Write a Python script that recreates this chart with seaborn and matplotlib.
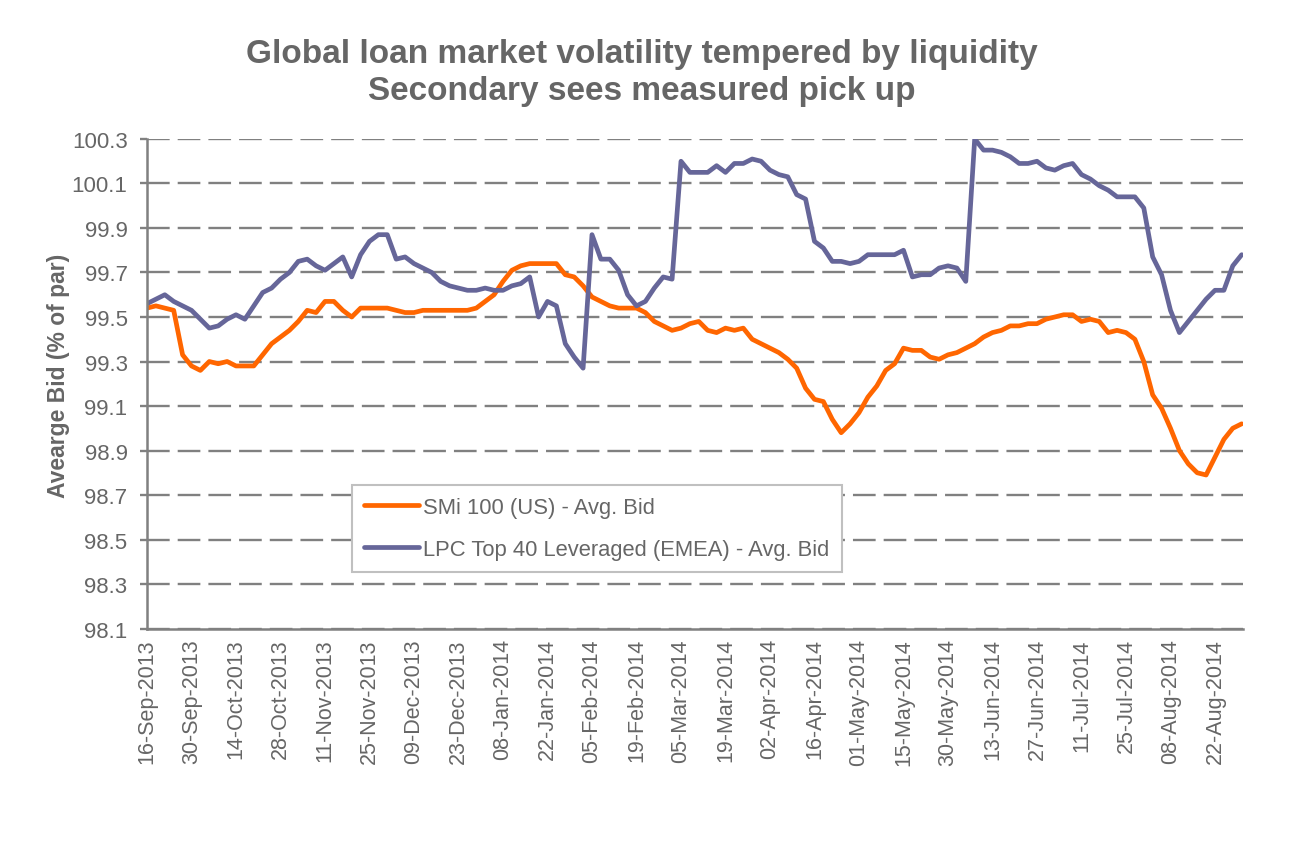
import numpy as np
import pandas as pd
import matplotlib
matplotlib.use("Agg")
import matplotlib.pyplot as plt
import seaborn as sns

# x axis is a trading-day axis, labels on every 10th trading day
date_labels = [
    "16-Sep-2013", "30-Sep-2013", "14-Oct-2013", "28-Oct-2013", "11-Nov-2013",
    "25-Nov-2013", "09-Dec-2013", "23-Dec-2013", "08-Jan-2014", "22-Jan-2014",
    "05-Feb-2014", "19-Feb-2014", "05-Mar-2014", "19-Mar-2014", "02-Apr-2014",
    "16-Apr-2014", "01-May-2014", "15-May-2014", "30-May-2014", "13-Jun-2014",
    "27-Jun-2014", "11-Jul-2014", "25-Jul-2014", "08-Aug-2014", "22-Aug-2014",
]

# readings taken every second trading day
step = 2

# SMi 100 (US) - Avg. Bid
smi_us = [
    99.54, 99.55, 99.54, 99.53, 99.33, 99.28, 99.26, 99.30, 99.29, 99.30,
    99.28, 99.28, 99.28, 99.33, 99.38, 99.41, 99.44, 99.48, 99.53, 99.52,
    99.57, 99.57, 99.53, 99.50, 99.54, 99.54, 99.54, 99.54, 99.53, 99.52,
    99.52, 99.53, 99.53, 99.53, 99.53, 99.53, 99.53, 99.54, 99.57, 99.60,
    99.66, 99.71, 99.73, 99.74, 99.74, 99.74, 99.74, 99.69, 99.68, 99.64,
    99.59, 99.57, 99.55, 99.54, 99.54, 99.54, 99.52, 99.48, 99.46, 99.44,
    99.45, 99.47, 99.48, 99.44, 99.43, 99.45, 99.44, 99.45, 99.40, 99.38,
    99.36, 99.34, 99.31, 99.27, 99.18, 99.13, 99.12, 99.04, 98.98, 99.02,
    99.07, 99.14, 99.19, 99.26, 99.29, 99.36, 99.35, 99.35, 99.32, 99.31,
    99.33, 99.34, 99.36, 99.38, 99.41, 99.43, 99.44, 99.46, 99.46, 99.47,
    99.47, 99.49, 99.50, 99.51, 99.51, 99.48, 99.49, 99.48, 99.43, 99.44,
    99.43, 99.40, 99.30, 99.15, 99.09, 99.00, 98.90, 98.84, 98.80, 98.79,
    98.87, 98.95, 99.00, 99.02,
]

# LPC Top 40 Leveraged (EMEA) - Avg. Bid
lpc_emea = [
    99.56, 99.58, 99.60, 99.57, 99.55, 99.53, 99.49, 99.45, 99.46, 99.49,
    99.51, 99.49, 99.55, 99.61, 99.63, 99.67, 99.70, 99.75, 99.76, 99.73,
    99.71, 99.74, 99.77, 99.68, 99.78, 99.84, 99.87, 99.87, 99.76, 99.77,
    99.74, 99.72, 99.70, 99.66, 99.64, 99.63, 99.62, 99.62, 99.63, 99.62,
    99.62, 99.64, 99.65, 99.68, 99.50, 99.57, 99.55, 99.38, 99.32, 99.27,
    99.87, 99.76, 99.76, 99.71, 99.60, 99.55, 99.57, 99.63, 99.68, 99.67,
    100.20, 100.15, 100.15, 100.15, 100.18, 100.15, 100.19, 100.19, 100.21, 100.20,
    100.16, 100.14, 100.13, 100.05, 100.03, 99.84, 99.81, 99.75, 99.75, 99.74,
    99.75, 99.78, 99.78, 99.78, 99.78, 99.80, 99.68, 99.69, 99.69, 99.72,
    99.73, 99.72, 99.66, 100.30, 100.25, 100.25, 100.24, 100.22, 100.19, 100.19,
    100.20, 100.17, 100.16, 100.18, 100.19, 100.14, 100.12, 100.09, 100.07, 100.04,
    100.04, 100.04, 99.99, 99.77, 99.69, 99.53, 99.43, 99.48, 99.53, 99.58,
    99.62, 99.62, 99.73, 99.78,
]

series_names = ["SMi 100 (US) - Avg. Bid", "LPC Top 40 Leveraged (EMEA) - Avg. Bid"]
y_ticks = [98.1, 98.3, 98.5, 98.7, 98.9, 99.1, 99.3, 99.5, 99.7, 99.9, 100.1, 100.3]

grey = "#808080"
text_grey = "#666666"

days = np.arange(len(smi_us)) * step
df = pd.concat([
    pd.DataFrame({"day": days, "bid": smi_us, "series": series_names[0]}),
    pd.DataFrame({"day": days, "bid": lpc_emea, "series": series_names[1]}),
])

sns.set_theme(style="white")
plt.rcParams["font.family"] = ["Liberation Sans", "DejaVu Sans"]

fig = plt.figure(figsize=(12.94, 8.62), dpi=100)
ax = fig.add_axes([0.1136, 0.2697, 0.847, 0.5679])

sns.lineplot(data=df, x="day", y="bid", hue="series", hue_order=series_names,
             palette=["#FF6600", "#666699"], linewidth=3.4, estimator=None,
             ax=ax)

# axes limits and ticks
ax.set_xlim(0, 246.3)
ax.set_ylim(98.1, 100.3)
ax.set_yticks(y_ticks)
ax.set_yticklabels([f"{v:.1f}" for v in y_ticks])
ax.set_xticks(np.arange(len(date_labels)) * 10)
ax.set_xticklabels(date_labels, rotation=90)
ax.set_xticks(np.arange(0, 241, 30), minor=True)
ax.tick_params(axis="x", which="major", length=0, pad=7, labelsize=15.5,
               labelcolor=text_grey)
ax.tick_params(axis="x", which="minor", length=5, width=1.7, color=grey,
               direction="out", bottom=True)
ax.tick_params(axis="y", length=5, width=1.7, color=grey, direction="out",
               pad=9, labelsize=16, labelcolor=text_grey, left=True)
ax.set_xlabel("")

# dashed horizontal gridlines
ax.yaxis.grid(True, color=grey, linewidth=1.7, linestyle=(0, (9.6, 3.4)))
ax.xaxis.grid(False)
ax.set_axisbelow(True)

for side in ["top", "right"]:
    ax.spines[side].set_visible(False)
for side in ["left", "bottom"]:
    ax.spines[side].set_color(grey)
    ax.spines[side].set_linewidth(1.8)

ax.set_ylabel("Avearge Bid (% of par)", fontsize=16.5, fontweight="bold",
              color=text_grey)
ax.yaxis.set_label_coords(-0.081, 0.518)
ax.yaxis.label.set_verticalalignment("center")

# legend box inside the plot
handles, labels = ax.get_legend_handles_labels()
leg = ax.legend(handles, labels, loc="upper left",
                bbox_to_anchor=(352 / 1294, 1 - 486 / 862),
                bbox_transform=fig.transFigure, fontsize=15.8,
                frameon=True, fancybox=False, framealpha=1,
                edgecolor="#c0c0c0", borderaxespad=0, borderpad=0.55,
                handlelength=2.5, handletextpad=0.2, labelspacing=0.95)
leg.get_frame().set_linewidth(1.5)
for txt in leg.get_texts():
    txt.set_color(text_grey)

fig.text(0.496, 1 - 73 / 862,
         "Global loan market volatility tempered by liquidity\nSecondary sees measured pick up",
         ha="center", va="center", fontsize=24, fontweight="bold",
         color=text_grey, linespacing=1.25)

fig.savefig("out.png", dpi=100)
